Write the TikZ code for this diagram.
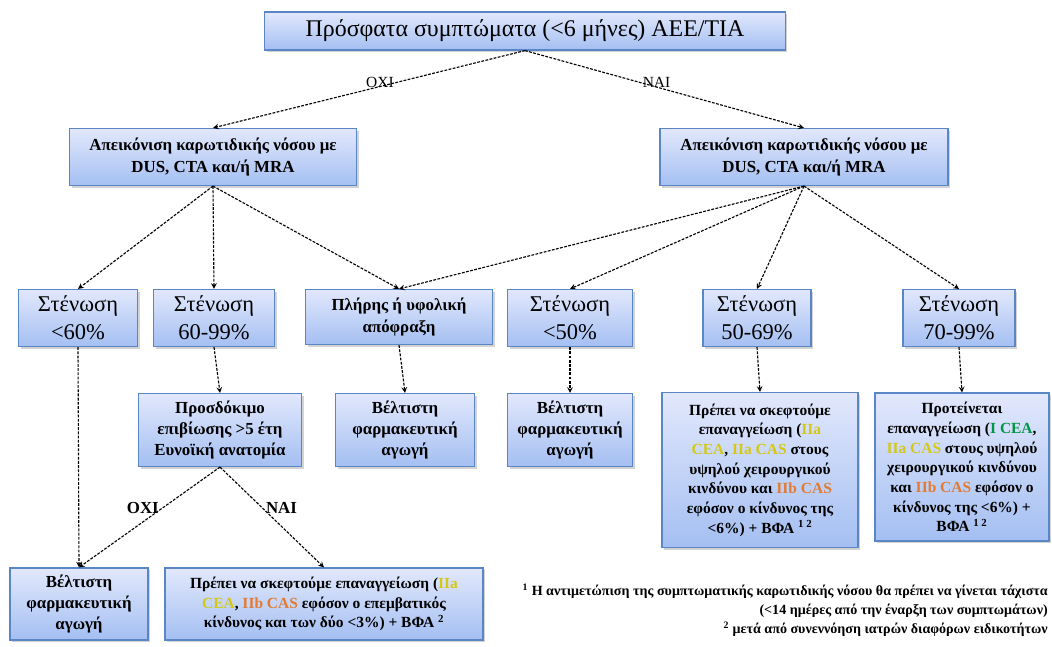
\documentclass[tikz,border=0pt]{standalone}
\usepackage{fontspec}
\setmainfont{Liberation Serif}
\usepackage{tikz}
\usetikzlibrary{arrows,shadows,positioning}

\definecolor{boxline}{RGB}{91,134,197}
\definecolor{boxtop}{RGB}{226,232,252}
\definecolor{boxbottom}{RGB}{164,191,242}
\definecolor{classI}{RGB}{0,150,70}
\definecolor{classIIa}{RGB}{212,200,20}
\definecolor{classIIb}{RGB}{228,122,48}

\newcommand{\recI}[1]{\textcolor{classI}{#1}}
\newcommand{\recIIa}[1]{\textcolor{classIIa}{#1}}
\newcommand{\recIIb}[1]{\textcolor{classIIb}{#1}}

\begin{document}
\begin{tikzpicture}[
x=0.025cm, y=-0.025cm,
font=\bfseries\fontsize{12}{15}\selectfont,
box/.style={draw=boxline, thick, top color=boxtop, bottom color=boxbottom, align=center, inner sep=2pt,
  drop shadow={opacity=0.35, shadow xshift=1.5pt, shadow yshift=-1.5pt}},
stenosis/.style={box, font=\fontsize{16}{20}\selectfont, minimum height=1.425cm},
advice/.style={box, font=\bfseries\fontsize{11}{14}\selectfont},
flow/.style={->, >=stealth, dashed, line width=0.8pt, dash pattern=on 2pt off 1pt},
answer/.style={font=\fontsize{11}{13}\selectfont, inner sep=2pt}
]
    % Frame
    \useasboundingbox (0,0) rectangle (1052,646);

    % First question
    \node[box, font=\fontsize{17}{20}\selectfont, minimum width=13cm, minimum height=0.95cm] (symptoms) at (525,31)
        {Πρόσφατα συμπτώματα (<6 μήνες) ΑΕΕ/ΤΙΑ};

    \node[box, minimum width=7.175cm, minimum height=1.425cm] (imgNo) at (213,157)
        {Απεικόνιση καρωτιδικής νόσου με\\DUS, CTA και/ή MRA};
    \node[box, minimum width=7.2cm, minimum height=1.425cm] (imgYes) at (804,157)
        {Απεικόνιση καρωτιδικής νόσου με\\DUS, CTA και/ή MRA};

    % Degree of stenosis
    \node[stenosis, minimum width=2.975cm] (stenA) at (78,318) {Στένωση\\<60\%};
    \node[stenosis, minimum width=3.025cm] (stenB) at (214,318) {Στένωση\\60-99\%};
    \node[box, minimum width=4.675cm, minimum height=1.375cm] (occlusion) at (399,317)
        {Πλήρης ή υφολική\\απόφραξη};
    \node[stenosis, minimum width=3.125cm] (stenC) at (570,318) {Στένωση\\<50\%};
    \node[stenosis, minimum width=2.7cm] (stenD) at (757,318) {Στένωση\\50-69\%};
    \node[stenosis, minimum width=2.8cm] (stenE) at (959,318) {Στένωση\\70-99\%};

    % Second level
    \node[box, minimum width=4.075cm, minimum height=1.825cm] (lifespan) at (220,430)
        {Προσδόκιμο\\επιβίωσης >5 έτη\\Ευνοϊκή ανατομία};
    \node[box, minimum width=3.475cm, minimum height=1.825cm] (medB) at (405,430)
        {Βέλτιστη\\φαρμακευτική\\αγωγή};
    \node[box, minimum width=3.125cm, minimum height=1.825cm] (medC) at (570,430)
        {Βέλτιστη\\φαρμακευτική\\αγωγή};
    \node[advice, minimum width=4.9cm, minimum height=3.875cm] (revascD) at (760,470)
        {Πρέπει να σκεφτούμε\\επαναγγείωση (\recIIa{IIa}\\\recIIa{CEA}, \recIIa{IIa CAS} στους\\υψηλού χειρουργικού\\κινδύνου και \recIIb{IIb CAS}\\εφόσον ο κίνδυνος της\\<6\%) + ΒΦΑ \textsuperscript{1 2}};
    \node[advice, minimum width=4.35cm, minimum height=3.7cm] (revascE) at (962,467)
        {Προτείνεται\\επαναγγείωση (\recI{I CEA},\\\recIIa{IIa CAS} στους υψηλού\\χειρουργικού κινδύνου\\και \recIIb{IIb CAS} εφόσον ο\\κίνδυνος της  <6\%) +\\ΒΦΑ \textsuperscript{1 2}};

    % Third level
    \node[box, minimum width=3.45cm, minimum height=1.8cm] (medA) at (79,604)
        {Βέλτιστη\\φαρμακευτική\\αγωγή};
    \node[advice, minimum width=7.95cm, minimum height=1.8cm] (revascB) at (324,604)
        {Πρέπει να σκεφτούμε επαναγγείωση (\recIIa{IIa}\\\recIIa{CEA}, \recIIb{IIb CAS} εφόσον ο επεμβατικός\\κίνδυνος και των δύο <3\%) + ΒΦΑ \textsuperscript{2}};

    % Notes
    \node[anchor=north east, align=right, font=\bfseries\fontsize{10}{13.5}\selectfont, inner sep=0pt] (notes) at (1048,584)
        {\textsuperscript{1} Η αντιμετώπιση της συμπτωματικής καρωτιδικής νόσου θα πρέπει να γίνεται  τάχιστα\\
         (<14 ημέρες από την έναρξη των συμπτωμάτων)\\
         \textsuperscript{2} μετά από συνεννόηση ιατρών διαφόρων ειδικοτήτων};

    % Arrows
    \draw[flow] (symptoms.south) -- node[answer, font=\fontsize{11}{13}\selectfont, pos=0.41, left] {ΟΧΙ} (imgNo.north);
    \draw[flow] (symptoms.south) -- node[answer, font=\fontsize{11}{13}\selectfont, pos=0.41, right] {ΝΑΙ} (imgYes.north);

    \draw[flow] (imgNo.south) -- (stenA.north);
    \draw[flow] (imgNo.south) -- (stenB.north);
    \draw[flow] (imgNo.south) -- (occlusion.north);
    \draw[flow] (imgYes.south) -- (occlusion.north);
    \draw[flow] (imgYes.south) -- (stenC.north);
    \draw[flow] (imgYes.south) -- (stenD.north);
    \draw[flow] (imgYes.south) -- (stenE.north);

    \draw[flow] (stenA.south) -- (medA.north);
    \draw[flow] (stenB.south) -- (lifespan.north);
    \draw[flow] (occlusion.south) -- (medB.north);
    \draw[flow] (stenC.south) -- (medC.north);
    \draw[flow] (stenD.south) -- (revascD.north);
    \draw[flow] (stenE.south) -- (revascE.north);

    \draw[flow] (lifespan.south) -- node[answer, font=\bfseries\fontsize{12}{14}\selectfont, pos=0.41, left] {ΟΧΙ} (medA.north);
    \draw[flow] (lifespan.south) -- node[answer, font=\bfseries\fontsize{12}{14}\selectfont, pos=0.41, right] {ΝΑΙ} (revascB.north);

\end{tikzpicture}
\end{document}
